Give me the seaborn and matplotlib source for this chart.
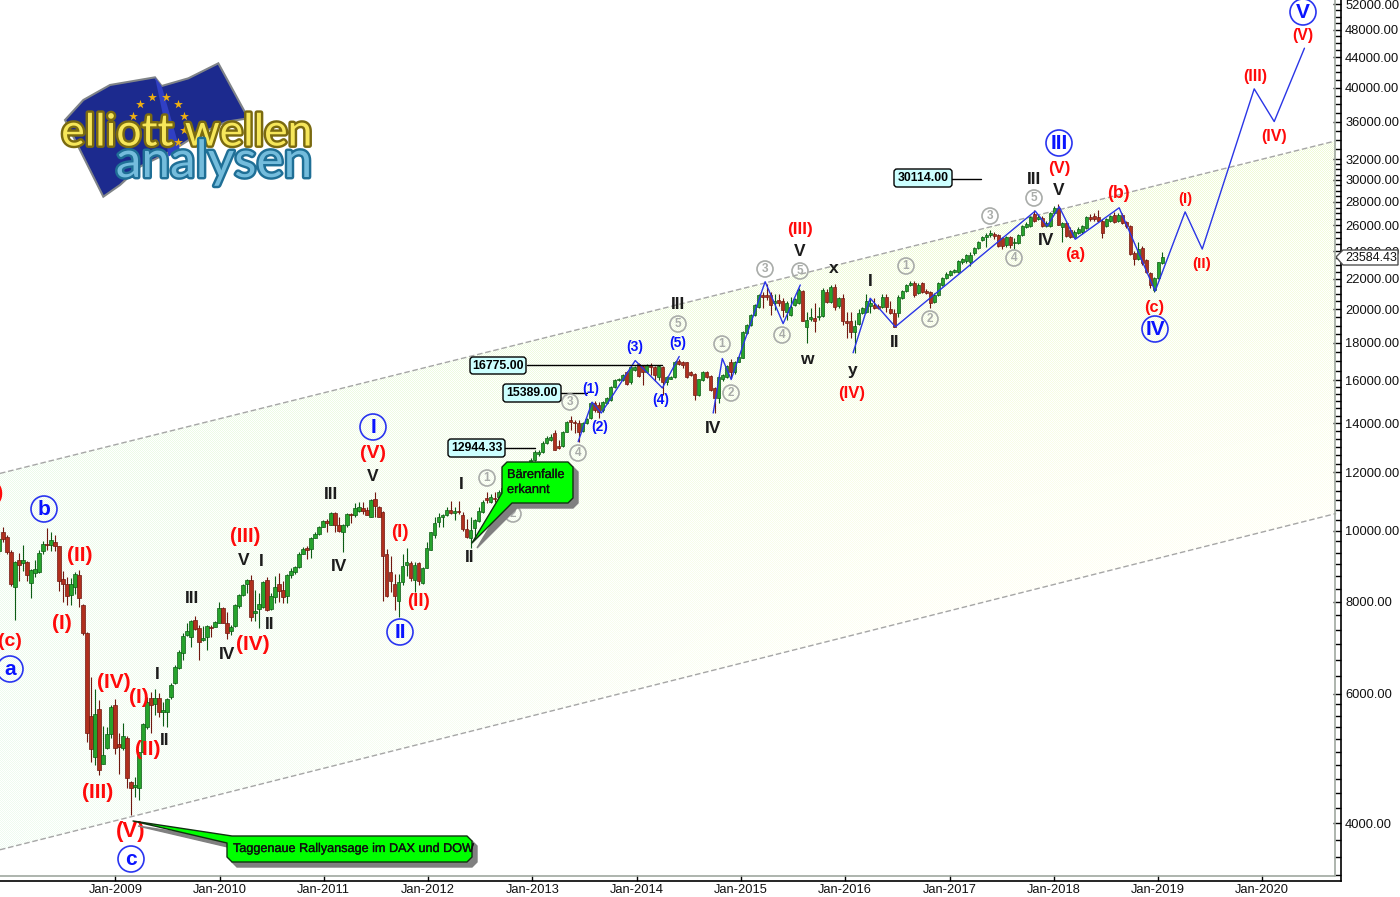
"""Elliott wave chart of the index, biweekly candles on a log scale."""

import matplotlib

matplotlib.use("Agg")

import matplotlib.dates as mdates
import matplotlib.patheffects as pe
import matplotlib.pyplot as plt
import numpy as np
import pandas as pd
import seaborn as sns
from matplotlib.lines import Line2D
from matplotlib.patches import Circle, FancyBboxPatch, Polygon
from matplotlib.ticker import FixedLocator, FuncFormatter, NullFormatter
from matplotlib.transforms import Affine2D

# biweekly candles
first_candle = "2007-11-21"
opens = [
    9380, 9940, 9800, 9350, 8370, 9130, 9040, 9070, 8480, 8760,
    8790, 9380, 9600, 9550, 9660, 9520, 8590, 8450, 8170, 8390,
    8700, 7930, 7260, 5587, 4920, 5720, 4815, 5060, 5290, 5790,
    5125, 5060, 5220, 4550, 4480, 4470, 5000, 5405, 5920, 5805,
    5920, 5665, 5665, 5940, 6210, 6510, 6825, 7215, 7170, 7565,
    7375, 7105, 7170, 7400, 7400, 7495, 7850, 7495, 7310, 7420,
    7900, 8170, 8450, 8570, 7725, 7825, 7875, 8570, 7825, 8110,
    8450, 8300, 8140, 8700, 8790, 8920, 9300, 9480, 9450, 9780,
    9880, 10125, 10320, 10190, 10580, 10190, 9940, 10160, 10540, 10490,
    10640, 10720, 10680, 10440, 11040, 10750, 10610, 9300, 8780, 8450,
    8020, 8500, 8980, 9040, 8570, 9040, 8480, 8900, 9420, 9850,
    10280, 10420, 10490, 10680, 10580, 10640, 10490, 10060, 9780, 10090,
    10320, 10610, 11080, 10930, 11080, 11120, 11260, 11420, 11650, 11580,
    11770, 11920, 12080, 12260, 12490, 12690, 12770, 13170, 13290, 13590,
    13050, 13050, 13630, 14130, 14050, 14000, 13680, 14000, 14220, 14900,
    14800, 14580, 14900, 15050, 15700, 16000, 16000, 16420, 15900, 16560,
    16830, 16720, 16420, 16770, 16670, 16200, 16670, 15900, 16100, 16200,
    17030, 16980, 16930, 16420, 16350, 15300, 16000, 16420, 16250, 15630,
    15150, 16050, 16200, 16930, 16420, 16980, 17190, 18580, 19050, 19650,
    20130, 20900, 20900, 20900, 20380, 20570, 20500, 19820, 19650, 20250,
    20380, 21170, 18900, 19380, 19440, 19500, 19580, 21100, 20440, 21450,
    20190, 20700, 19300, 19300, 18640, 19120, 19750, 19820, 20190, 20250,
    20190, 20130, 20770, 20000, 19750, 19750, 20700, 21170, 21580, 21720,
    21030, 21720, 21170, 21100, 20440, 20900, 21580, 22070, 22280, 22490,
    22490, 23160, 23230, 23160, 23850, 24230, 24820, 25060, 25220, 25300,
    25220, 24980, 24450, 25060, 24620, 24620, 25220, 25870, 25950, 26950,
    26530, 26620, 25950, 25950, 27050, 27480, 25870, 26200, 25620, 25060,
    25380, 25460, 25780, 26700, 26780, 26700, 26370, 25950, 26370, 26870,
    26370, 26870, 26280, 25950, 23850, 23400, 24230, 23300, 22420, 21230,
    22070, 23100,
]
highs = [
    10000, 10100, 9850, 9400, 9100, 9320, 9550, 9100, 8870, 9130,
    9400, 9680, 10080, 9970, 9860, 9540, 8820, 8650, 8620, 8770,
    8850, 7950, 7280, 6326, 6095, 5880, 5420, 5405, 5790, 5900,
    5305, 5471, 5250, 4560, 4620, 5000, 5471, 5940, 6040, 6080,
    6020, 5840, 5920, 6200, 6560, 6890, 7260, 7495, 7565, 7660,
    7445, 7420, 7445, 7445, 7540, 8000, 7870, 7750, 7445, 7950,
    8200, 8450, 8590, 8700, 8300, 8230, 8530, 8640, 8230, 8670,
    8760, 8530, 8730, 8880, 8954, 9340, 9510, 9540, 9815, 9940,
    10140, 10350, 10380, 10610, 10610, 10440, 10220, 10580, 10580, 10900,
    10930, 10930, 10750, 11040, 11290, 10790, 10640, 9450, 9220, 8730,
    8730, 9280, 9480, 9100, 9070, 9070, 8920, 9660, 9970, 10440,
    10580, 10540, 10750, 10970, 10750, 10970, 10610, 10380, 10420, 10380,
    10750, 11000, 11290, 11200, 11300, 11350, 11500, 11650, 11700, 11850,
    12000, 12150, 12350, 12550, 12850, 12880, 13220, 13450, 13550, 13700,
    13300, 13680, 14100, 14300, 14130, 14130, 14050, 14230, 14950, 15000,
    14950, 15000, 15200, 15750, 16050, 16150, 16350, 16480, 16720, 16720,
    16900, 16800, 16830, 16900, 16730, 16780, 16720, 16250, 16250, 17030,
    17100, 17030, 16980, 16480, 16400, 16100, 16480, 16480, 16300, 15700,
    16250, 16350, 16780, 17100, 17030, 17250, 18700, 19100, 19700, 20300,
    20950, 21100, 21650, 21100, 21000, 21000, 20700, 20500, 20800, 20700,
    21350, 21250, 19820, 20060, 20380, 20130, 21350, 21300, 21600, 21650,
    20800, 21000, 19820, 19800, 19350, 20000, 20130, 21000, 20700, 20700,
    20300, 21000, 20950, 20500, 20000, 20900, 21250, 21650, 21850, 21850,
    21700, 21800, 21300, 21200, 21050, 21800, 22150, 22450, 22650, 22720,
    23350, 23500, 23800, 23900, 24320, 24800, 25150, 25400, 25650, 25500,
    25350, 25100, 25150, 25150, 25000, 25300, 26000, 26250, 26800, 27300,
    26900, 26800, 26400, 27150, 27600, 27800, 26300, 26300, 25900, 25600,
    25900, 26050, 26800, 26950, 27000, 27300, 26500, 26650, 26900, 27100,
    27000, 27000, 26400, 26050, 24000, 24700, 24400, 23400, 22500, 22150,
    23200, 23950,
]
lows = [
    9300, 9650, 9300, 8400, 7550, 8530, 8820, 8530, 8100, 8650,
    8750, 9300, 9400, 9380, 9380, 8270, 8000, 7910, 7930, 8200,
    7870, 7220, 5155, 4840, 4800, 4655, 4815, 5045, 5220, 4970,
    4670, 5035, 4470, 4100, 4340, 4300, 4985, 5370, 5305, 5610,
    5575, 5420, 5405, 5900, 6180, 6490, 6672, 7195, 6950, 7330,
    6672, 7080, 6890, 7170, 7390, 7495, 7490, 7125, 7220, 7400,
    7850, 8140, 8230, 7540, 7540, 7375, 7850, 7775, 7800, 7975,
    8000, 7975, 7975, 8620, 8730, 8900, 9280, 9160, 9190, 9760,
    9850, 10100, 9940, 10160, 9940, 9940, 9340, 10125, 10250, 10440,
    10610, 10540, 10490, 10420, 10440, 10420, 8020, 8110, 8250, 7800,
    7620, 8420, 8670, 8530, 8250, 8420, 8450, 8880, 9400, 9780,
    10125, 10125, 10460, 10540, 10350, 10540, 10000, 9780, 9480, 9780,
    10280, 10580, 10900, 10900, 10950, 11080, 11200, 11380, 11450, 11550,
    11750, 11900, 12050, 12230, 12450, 12650, 12730, 13130, 13250, 12850,
    12900, 13000, 13600, 13720, 13590, 13210, 13600, 13960, 14180, 14500,
    14220, 14500, 14850, 15000, 15650, 15950, 15950, 15800, 15850, 16500,
    16200, 15800, 16380, 16300, 15950, 16000, 15300, 15800, 16050, 16150,
    16780, 16650, 16150, 16250, 15030, 15250, 15950, 16150, 15500, 14450,
    14900, 15950, 16150, 16150, 16350, 16930, 17150, 18500, 19000, 19600,
    20100, 20100, 20600, 19650, 19940, 20200, 19500, 19350, 19600, 20200,
    20300, 19250, 18000, 19250, 18640, 19350, 19500, 20400, 20400, 19940,
    20100, 19050, 18300, 18300, 17450, 19050, 19700, 19750, 19750, 20000,
    20000, 20050, 19820, 19700, 18900, 19500, 20650, 21100, 21500, 20770,
    21000, 21050, 20950, 20060, 20380, 20850, 21500, 22000, 22200, 22400,
    22400, 23080, 23100, 22900, 23700, 24150, 24750, 24300, 25100, 24950,
    24300, 24150, 24300, 24230, 24150, 24550, 25150, 25800, 25900, 26300,
    26450, 25850, 25900, 25900, 27000, 26000, 24700, 25050, 24980, 25000,
    25300, 25300, 25700, 26400, 26350, 26250, 24980, 25850, 26250, 26200,
    26300, 26100, 25800, 23700, 22950, 23300, 23000, 22400, 21400, 21100,
    22000, 23050,
]
closes = [
    9750, 9750, 9350, 8450, 9070, 8990, 9130, 8700, 8850, 8870,
    9320, 9600, 9550, 9720, 9520, 8530, 8450, 8140, 8450, 8730,
    8085, 7260, 5305, 5045, 5630, 4725, 4950, 5290, 5750, 5060,
    5075, 5250, 4610, 4470, 4510, 5000, 5455, 5840, 5790, 5920,
    5665, 5700, 5900, 6170, 6530, 6845, 7195, 7310, 7540, 7350,
    7060, 7150, 7420, 7375, 7520, 7850, 7495, 7260, 7400, 7925,
    8170, 8420, 8570, 7630, 7775, 7950, 8500, 7800, 8140, 8390,
    8280, 8110, 8700, 8820, 8920, 9300, 9450, 9420, 9780, 9900,
    10125, 10320, 10250, 10580, 10160, 10000, 10190, 10540, 10510, 10720,
    10750, 10640, 10510, 11000, 10790, 10440, 9220, 8140, 8550, 8140,
    8500, 8950, 9060, 8620, 8980, 8550, 8900, 9480, 9940, 10250,
    10440, 10510, 10680, 10580, 10640, 10610, 10060, 9815, 10030, 10350,
    10640, 10930, 11000, 11120, 11040, 11290, 11440, 11590, 11500, 11800,
    11960, 12110, 12300, 12490, 12770, 12800, 13170, 13380, 13420, 12880,
    12960, 13630, 14050, 14050, 14000, 13630, 14000, 14180, 14900, 14580,
    14480, 14950, 15150, 15700, 16000, 16100, 16300, 15850, 16670, 16670,
    16250, 16420, 16770, 16670, 16300, 16720, 15900, 16200, 16200, 16980,
    16830, 16770, 16200, 16300, 15300, 16050, 16420, 16200, 15530, 15150,
    16200, 16300, 16720, 16420, 16980, 17200, 18640, 19050, 19650, 20250,
    20900, 20770, 20770, 20250, 20500, 20380, 19940, 20380, 20130, 20630,
    21230, 19300, 19350, 19500, 19300, 19580, 21230, 20440, 21450, 20130,
    20700, 19300, 19180, 18640, 19000, 19750, 20060, 20500, 20380, 20060,
    20060, 20770, 20130, 19750, 18930, 20770, 21170, 21580, 21720, 20900,
    21580, 21100, 21030, 20380, 20900, 21720, 22070, 22350, 22560, 22630,
    23230, 23400, 23700, 23700, 24230, 24700, 25060, 25220, 25380, 25140,
    24380, 24380, 25060, 24450, 24700, 25220, 25950, 26150, 26700, 26370,
    26700, 25950, 26200, 27050, 27480, 26030, 26200, 25140, 25060, 25460,
    25700, 25950, 26700, 26530, 26530, 26370, 25380, 26530, 26780, 26280,
    26870, 26200, 25950, 23770, 23400, 24150, 23100, 22490, 21580, 22070,
    23160, 23584,
]

# blue wave count, one list per drawn leg
wave_dates_1 = ["2013-06-10", "2013-07-29", "2013-08-30", "2013-12-27", "2014-04-01", "2014-05-30"]
wave_values_1 = [13210, 14950, 14450, 17030, 15630, 17250]
wave_dates_2 = ["2014-09-26", "2014-10-28", "2014-11-28", "2015-03-27", "2015-05-29", "2015-07-28"]
wave_values_2 = [14450, 17140, 16050, 21800, 19120, 21580]
wave_dates_3 = [
    "2016-01-29", "2016-03-29", "2016-06-25", "2017-10-28", "2017-12-09", "2018-01-20",
    "2018-03-17", "2018-08-18", "2018-12-22", "2019-04-06", "2019-06-05", "2019-12-04",
    "2020-02-12", "2020-05-28",
]
wave_values_3 = [
    17450, 20700, 18930, 27200, 25950, 27570, 24900, 27480, 21170, 27130, 24150, 39880,
    36000, 45300,
]

channel_dates = ["2007-11-24", "2020-09-16"]
channel_upper = [11960, 33900]
channel_lower = [3680, 10550]

level_values = [16775.00, 15389.00, 12944.33, 30114.00]
level_starts = ["2012-12-14", "2013-04-12", "2012-09-27", "2017-01-07"]
level_ends = ["2014-04-01", "2013-07-12", "2013-01-11", "2017-04-22"]
last_price = 23584.43

y_ticks = [
    4000, 6000, 8000, 10000, 12000, 14000, 16000, 18000, 20000, 22000, 24000, 26000,
    28000, 30000, 32000, 36000, 40000, 44000, 48000, 52000,
]
x_ticks = [f"{y}-01-01" for y in range(2009, 2021)]
x_labels = [f"Jan-{y}" for y in range(2009, 2021)]

RED = "#ff0a0a"
BLUE = "#0a14ff"
BLACK = "#1c1c1c"
GRAY = "#a9aca9"

# text, x, y in picture pixels, font size
red_labels = [
    ("(III)", -12, 493, 15), ("(c)", 10, 641, 14), ("(II)", 80, 555, 15), ("(I)", 62, 623, 15),
    ("(IV)", 114, 682, 15), ("(I)", 139, 697, 15), ("(II)", 148, 749, 15), ("(III)", 98, 792, 15),
    ("(V)", 131, 831, 16), ("(III)", 245, 536, 14.5), ("(IV)", 253, 644, 15), ("(V)", 373, 453, 14),
    ("(I)", 400, 532, 13.5), ("(II)", 418, 601, 13.5), ("(III)", 800, 229, 12.3), ("(IV)", 852, 393, 12),
    ("(V)", 1059, 168, 12), ("(a)", 1075, 254, 11.8), ("(b)", 1118, 193, 12.8), ("(c)", 1154, 307, 11.8),
    ("(I)", 1185, 199, 10.7), ("(II)", 1202, 264, 11), ("(III)", 1255, 76, 11.5), ("(IV)", 1274, 136, 11.5),
    ("(V)", 1303, 35, 11.5),
]
black_labels = [
    ("V", 244, 560), ("I", 261, 561), ("III", 192, 598), ("IV", 227, 654), ("II", 270, 624),
    ("I", 157, 674), ("II", 165, 740), ("III", 331, 494), ("IV", 339, 566), ("V", 373, 476),
    ("I", 461, 484), ("II", 470, 557), ("III", 678, 304), ("IV", 713, 428), ("V", 800, 251),
    ("w", 807, 359), ("x", 834, 268), ("y", 853, 370), ("I", 870, 281), ("II", 895, 342),
    ("III", 1034, 179), ("V", 1059, 190), ("IV", 1046, 240),
]
blue_circles = [
    ("b", 44, 509), ("a", 10, 669), ("c", 131, 859), ("I", 373, 427), ("II", 400, 632),
    ("III", 1059, 143), ("IV", 1155, 329), ("V", 1303, 12),
]
blue_small = [("(1)", 591, 389), ("(2)", 600, 427), ("(3)", 635, 347), ("(4)", 661, 400), ("(5)", 678, 343)]
gray_circles = [
    ("1", 487, 478), ("2", 513, 514), ("3", 570, 402), ("4", 578, 453), ("5", 678, 324),
    ("1", 722, 344), ("2", 731, 393), ("3", 765, 269), ("5", 800, 271), ("4", 782, 335),
    ("1", 906, 266), ("2", 930, 319), ("3", 990, 216), ("4", 1014, 258), ("5", 1034, 198),
]
price_boxes = [
    ("16775.00", 470, 357, 526, 374), ("15389.00", 503, 384, 561, 402),
    ("12944.33", 448, 439, 505, 457), ("30114.00", 894, 169, 952, 187),
]


def candle_frame():
    df = pd.DataFrame({"open": opens, "high": highs, "low": lows, "close": closes})
    df["date"] = pd.date_range(first_candle, periods=len(df), freq="14D")
    df["up"] = df["close"] >= df["open"]
    return df


def wave_frame():
    legs = []
    for i, (d, v) in enumerate(
        [(wave_dates_1, wave_values_1), (wave_dates_2, wave_values_2), (wave_dates_3, wave_values_3)]
    ):
        legs.append(pd.DataFrame({"date": pd.to_datetime(d), "value": v, "leg": i}))
    return pd.concat(legs, ignore_index=True)


def channel_background(fig):
    # dotted pale fill, stronger near the top edge and towards the left
    h, w = 881, 1341
    yy, xx = np.mgrid[0:h, 0:w]
    t = np.clip((yy - (474 - 0.2493 * xx)) / 376.0, 0, 1)[..., None]
    left = np.clip(1 - xx / 900.0, 0, 1)[..., None]
    top_c = np.array([0.94, 0.985, 0.84])
    bot_c = np.array([1.0, 1.0, 0.95])
    mint = np.array([0.92, 0.985, 0.94])
    col = top_c * (1 - t) + bot_c * t
    col = col * (1 - 0.8 * left) + mint * 0.8 * left
    col[((xx + yy) % 2 == 1)] = 1.0
    return fig.figimage(col, xo=0, yo=16, origin="upper", zorder=-1)


def main():
    sns.set_theme(style="white", rc={"figure.facecolor": "white", "axes.facecolor": "white"})
    plt.rcParams["font.family"] = ["Liberation Sans", "DejaVu Sans"]

    fig = plt.figure(figsize=(14, 8.97), dpi=100)
    ax = fig.add_axes([0, 16 / 897, 1341 / 1400, 881 / 897])
    ax.patch.set_visible(False)
    pix = Affine2D().scale(1, -1).translate(0, 897)

    im = channel_background(fig)

    ax.set_yscale("log")
    ax.xaxis_date()
    channel_x = pd.to_datetime(channel_dates)
    band = ax.fill_between(channel_x, channel_lower, channel_upper, color="none", zorder=0)
    im.set_clip_path(band.get_paths()[0], transform=ax.transData)

    channel = pd.DataFrame({
        "date": list(channel_x) * 2,
        "value": channel_upper + channel_lower,
        "side": ["upper"] * 2 + ["lower"] * 2,
    })
    sns.lineplot(data=channel, x="date", y="value", units="side", estimator=None, ax=ax,
                 color="#a6a6a6", linewidth=1.0, linestyle=(0, (4, 2)), zorder=1)

    # candles
    df = candle_frame()
    xs = mdates.date2num(df["date"])
    edge = np.where(df["up"], "#0c5c14", "#701810")
    face = np.where(df["up"], "#26a32c", "#b0301e")
    ax.vlines(xs, df["low"], df["high"], colors=edge, linewidth=0.8, zorder=2)
    ax.bar(xs, (df["close"] - df["open"]).abs(), bottom=df[["open", "close"]].min(axis=1), width=11.5,
           color=face, edgecolor=edge, linewidth=0.5, zorder=3)

    sns.lineplot(data=wave_frame(), x="date", y="value", units="leg", estimator=None, ax=ax,
                 color="#2a35e6", linewidth=1.0, zorder=4)

    for v, a, b in zip(level_values, level_starts, level_ends):
        ax.plot(pd.to_datetime([a, b]), [v, v], color="black", linewidth=1.0, zorder=4)

    ax.set_xlim(pd.Timestamp("2007-11-24"), pd.Timestamp("2020-10-03"))
    ax.set_ylim(3337, 52680)

    # axes and ticks
    ax.set_xlabel("")
    ax.set_ylabel("")
    ax.set_xticks(pd.to_datetime(x_ticks))
    ax.set_xticklabels(x_labels, fontsize=9.3, color="#111111")
    ax.yaxis.tick_right()
    ax.yaxis.set_major_locator(FixedLocator(y_ticks))
    ax.yaxis.set_major_formatter(FuncFormatter(lambda v, _: f"{v:.2f}"))
    minor = list(range(3400, 6000, 200)) + list(np.arange(6000, 16000, 1000 / 3)) + list(range(16000, 32000, 500))
    minor += list(range(32000, 52000, 1000))
    ax.yaxis.set_minor_locator(FixedLocator(minor))
    ax.yaxis.set_minor_formatter(NullFormatter())
    ax.tick_params(axis="y", which="major", direction="in", length=6, width=1, pad=3, labelsize=9.3,
                   labelcolor="#111111", color="black", right=True, left=False)
    ax.tick_params(axis="y", which="minor", direction="in", length=4, width=1, color="black", right=True, left=False)
    ax.tick_params(axis="x", direction="in", length=4, width=1, pad=2.5, color="black", bottom=True)
    for name, spine in ax.spines.items():
        spine.set_visible(name in ("right", "bottom"))
        spine.set_color("black")
        spine.set_linewidth(1.2)

    # inner gray frame
    for xd, yd in [((0, 1335), (876, 876)), ((1335, 1335), (0, 876))]:
        fig.add_artist(Line2D(xd, yd, transform=pix, color="#a0a8a0", linewidth=1.2, zorder=5))

    def label(s, x, y, size, color, **kw):
        ax.text(x, y, s, transform=pix, ha="center", va="center", fontsize=size, color=color,
                fontweight="bold", zorder=8, clip_on=False, **kw)

    for s, x, y, size in red_labels:
        label(s, x, y, size, RED)
    for s, x, y in black_labels:
        label(s, x, y, 12.5, BLACK)
    for s, x, y in blue_small:
        label(s, x, y, 10, BLUE)
    for s, x, y in blue_circles:
        ax.add_patch(Circle((x, y), 13, transform=pix, fill=False, ec="#2a35f0", lw=1.2, zorder=8, clip_on=False))
        label(s, x, y, 15, BLUE)
    for s, x, y in gray_circles:
        ax.add_patch(Circle((x, y), 8, transform=pix, fill=False, ec=GRAY, lw=1.2, zorder=8, clip_on=False))
        label(s, x, y, 8.5, GRAY)

    # price boxes
    for s, x0, y0, x1, y1 in price_boxes:
        ax.add_patch(FancyBboxPatch((x0 + 2, y0 + 2), x1 - x0 - 4, y1 - y0 - 4, boxstyle="round,pad=2,rounding_size=3",
                                    transform=pix, fc="#ccffff", ec="black", lw=1.0, zorder=8, clip_on=False))
        label(s, (x0 + x1) / 2, (y0 + y1) / 2, 8.8, "black")

    # green callouts
    bubble_a = [(507, 462), (568, 462), (573, 467), (573, 498), (568, 503), (512, 503), (472, 543), (502, 493), (502, 467)]
    bubble_b = [(232, 836), (467, 836), (472, 841), (472, 857), (467, 862), (232, 862), (227, 857), (227, 843), (133, 821)]
    heavy = [pe.withStroke(linewidth=0.2, foreground="#101010")]
    for pts in (bubble_a, bubble_b):
        shadow = [(x + 5, y + 5) for x, y in pts]
        ax.add_patch(Polygon(shadow, closed=True, transform=pix, fc="#808080", ec="#808080", zorder=8.2, clip_on=False))
        ax.add_patch(Polygon(pts, closed=True, transform=pix, fc="#00ff00", ec="#103010", lw=1.0, zorder=8.3,
                             joinstyle="round", clip_on=False))
    ax.text(507, 475, "Bärenfalle", transform=pix, fontsize=9.2, va="center", ha="left", color="#101010", zorder=8.5,
            path_effects=heavy)
    ax.text(507, 490, "erkannt", transform=pix, fontsize=9.2, va="center", ha="left", color="#101010", zorder=8.5,
            path_effects=heavy)
    ax.text(233, 849, "Taggenaue Rallyansage im DAX und DOW", transform=pix, fontsize=9.1, va="center", ha="left",
            color="#101010", zorder=8.5, clip_on=False, path_effects=heavy)

    # last price flag
    ax.add_patch(Polygon([(1336, 257), (1343, 250), (1398, 250), (1398, 265), (1343, 265)], closed=True, transform=pix,
                         fc="white", ec="#505050", lw=1.0, zorder=9, clip_on=False))
    ax.text(1345, 257.5, f"{last_price:.2f}", transform=pix, fontsize=9, va="center", ha="left", color="#111111",
            zorder=10, clip_on=False)

    # logo
    lx = lambda zx: 40 + zx / 3
    ly = lambda zy: 50 + zy / 3
    flag = [(75, 210), (130, 150), (210, 105), (345, 82), (365, 108), (445, 85), (535, 40), (625, 205), (560, 215),
            (470, 255), (400, 300), (300, 350), (240, 405), (190, 440)]
    ax.add_patch(Polygon([(lx(a), ly(b)) for a, b in flag], closed=True, transform=pix, fc="#1c2a8e", ec="#808488",
                         lw=1.5, zorder=6, clip_on=False))
    fold = [(345, 82), (365, 108), (420, 300), (385, 320), (370, 200)]
    ax.add_patch(Polygon([(lx(a), ly(b)) for a, b in fold], closed=True, transform=pix, fc="#3040c4", ec="none",
                         zorder=6.1, clip_on=False))
    stars = [(300, 162), (337, 142), (378, 142), (413, 162), (433, 197), (433, 240), (413, 275), (280, 197)]
    ax.scatter([lx(a) for a, _ in stars], [ly(b) for _, b in stars], transform=pix, marker="*", s=45, c="#f0b010",
               linewidths=0, zorder=6.2, clip_on=False)
    ax.text(187, 133, "elliott wellen", transform=pix, ha="center", va="center", fontsize=32, color="#f6e65a",
            fontfamily="Lato", zorder=7, clip_on=False,
            path_effects=[pe.withStroke(linewidth=3.5, foreground="#7a6a10")])
    ax.text(214, 163, "analysen", transform=pix, ha="center", va="center", fontsize=37, color="#74bcdc",
            fontfamily="Lato", zorder=7.1, clip_on=False,
            path_effects=[pe.withStroke(linewidth=3.5, foreground="#1f6f96")])

    fig.savefig("out.png", dpi=100, facecolor="white")


if __name__ == "__main__":
    main()
